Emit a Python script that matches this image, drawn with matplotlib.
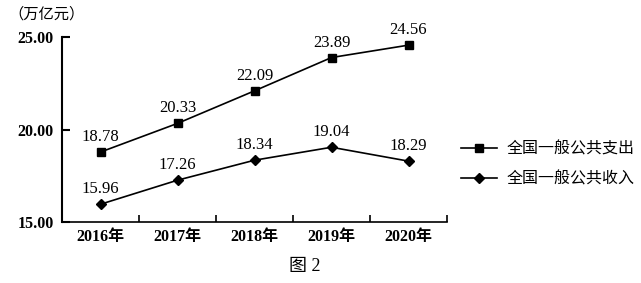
import matplotlib
matplotlib.use("Agg")
import matplotlib.pyplot as plt

years = ["2016年", "2017年", "2018年", "2019年", "2020年"]
expenditure = [18.78, 20.33, 22.09, 23.89, 24.56]
revenue = [15.96, 17.26, 18.34, 19.04, 18.29]
series_names = ["全国一般公共支出", "全国一般公共收入"]
y_ticks = [15.00, 20.00, 25.00]

fam = ["Liberation Serif", "Noto Sans CJK SC", "DejaVu Sans"]
plt.rcParams['font.family'] = fam

fig = plt.figure(figsize=(6.41, 2.83), dpi=100)
ax = fig.add_axes([62/641, 1-222/283, (447-62)/641, (222-37)/283])

x = list(range(len(years)))
ax.plot(x, expenditure, color="black", lw=1.2, marker="s", ms=6, label=series_names[0])
ax.plot(x, revenue, color="black", lw=1.2, marker="D", ms=5.5, label=series_names[1])

for xi, v in zip(x, expenditure):
    ax.annotate(f"{v:.2f}", (xi, v), xytext=(0, 5), textcoords="offset points",
                ha="center", va="bottom", fontsize=12)
for xi, v in zip(x, revenue):
    ax.annotate(f"{v:.2f}", (xi, v), xytext=(0, 5), textcoords="offset points",
                ha="center", va="bottom", fontsize=12)

ax.set_xlim(-0.5, len(years) - 0.5)
ax.set_ylim(15, 25)
ax.set_yticks(y_ticks)
ax.set_yticklabels([f"{t:.2f}" for t in y_ticks], fontweight="bold", fontsize=11.5)
ax.set_xticks([i + 0.5 for i in x])
ax.set_xticklabels([])
ax.set_xticks(x, minor=True)
ax.set_xticklabels(years, minor=True, fontsize=11.5, fontweight="bold")
ax.tick_params(axis="x", which="minor", length=0, pad=5)
ax.tick_params(axis="x", which="major", direction="in", length=5, width=1.2)
ax.tick_params(axis="y", direction="in", length=6, width=1.5, pad=6)
for s in ["top", "right"]:
    ax.spines[s].set_visible(False)
ax.spines["left"].set_linewidth(1.5)
ax.spines["bottom"].set_linewidth(1.2)

fig.text(8/641, 1-14/283, "（万亿元）", fontsize=11, ha="left", va="center")
fig.text(305/641, 1-267/283, "图 2", fontsize=13, ha="center", va="center")

ax.legend(loc="center left", bbox_to_anchor=(1.0, 0.31), frameon=False,
          fontsize=11.5, handlelength=2.2, handletextpad=0.6, labelspacing=0.85)

fig.savefig("out.png", dpi=100)
